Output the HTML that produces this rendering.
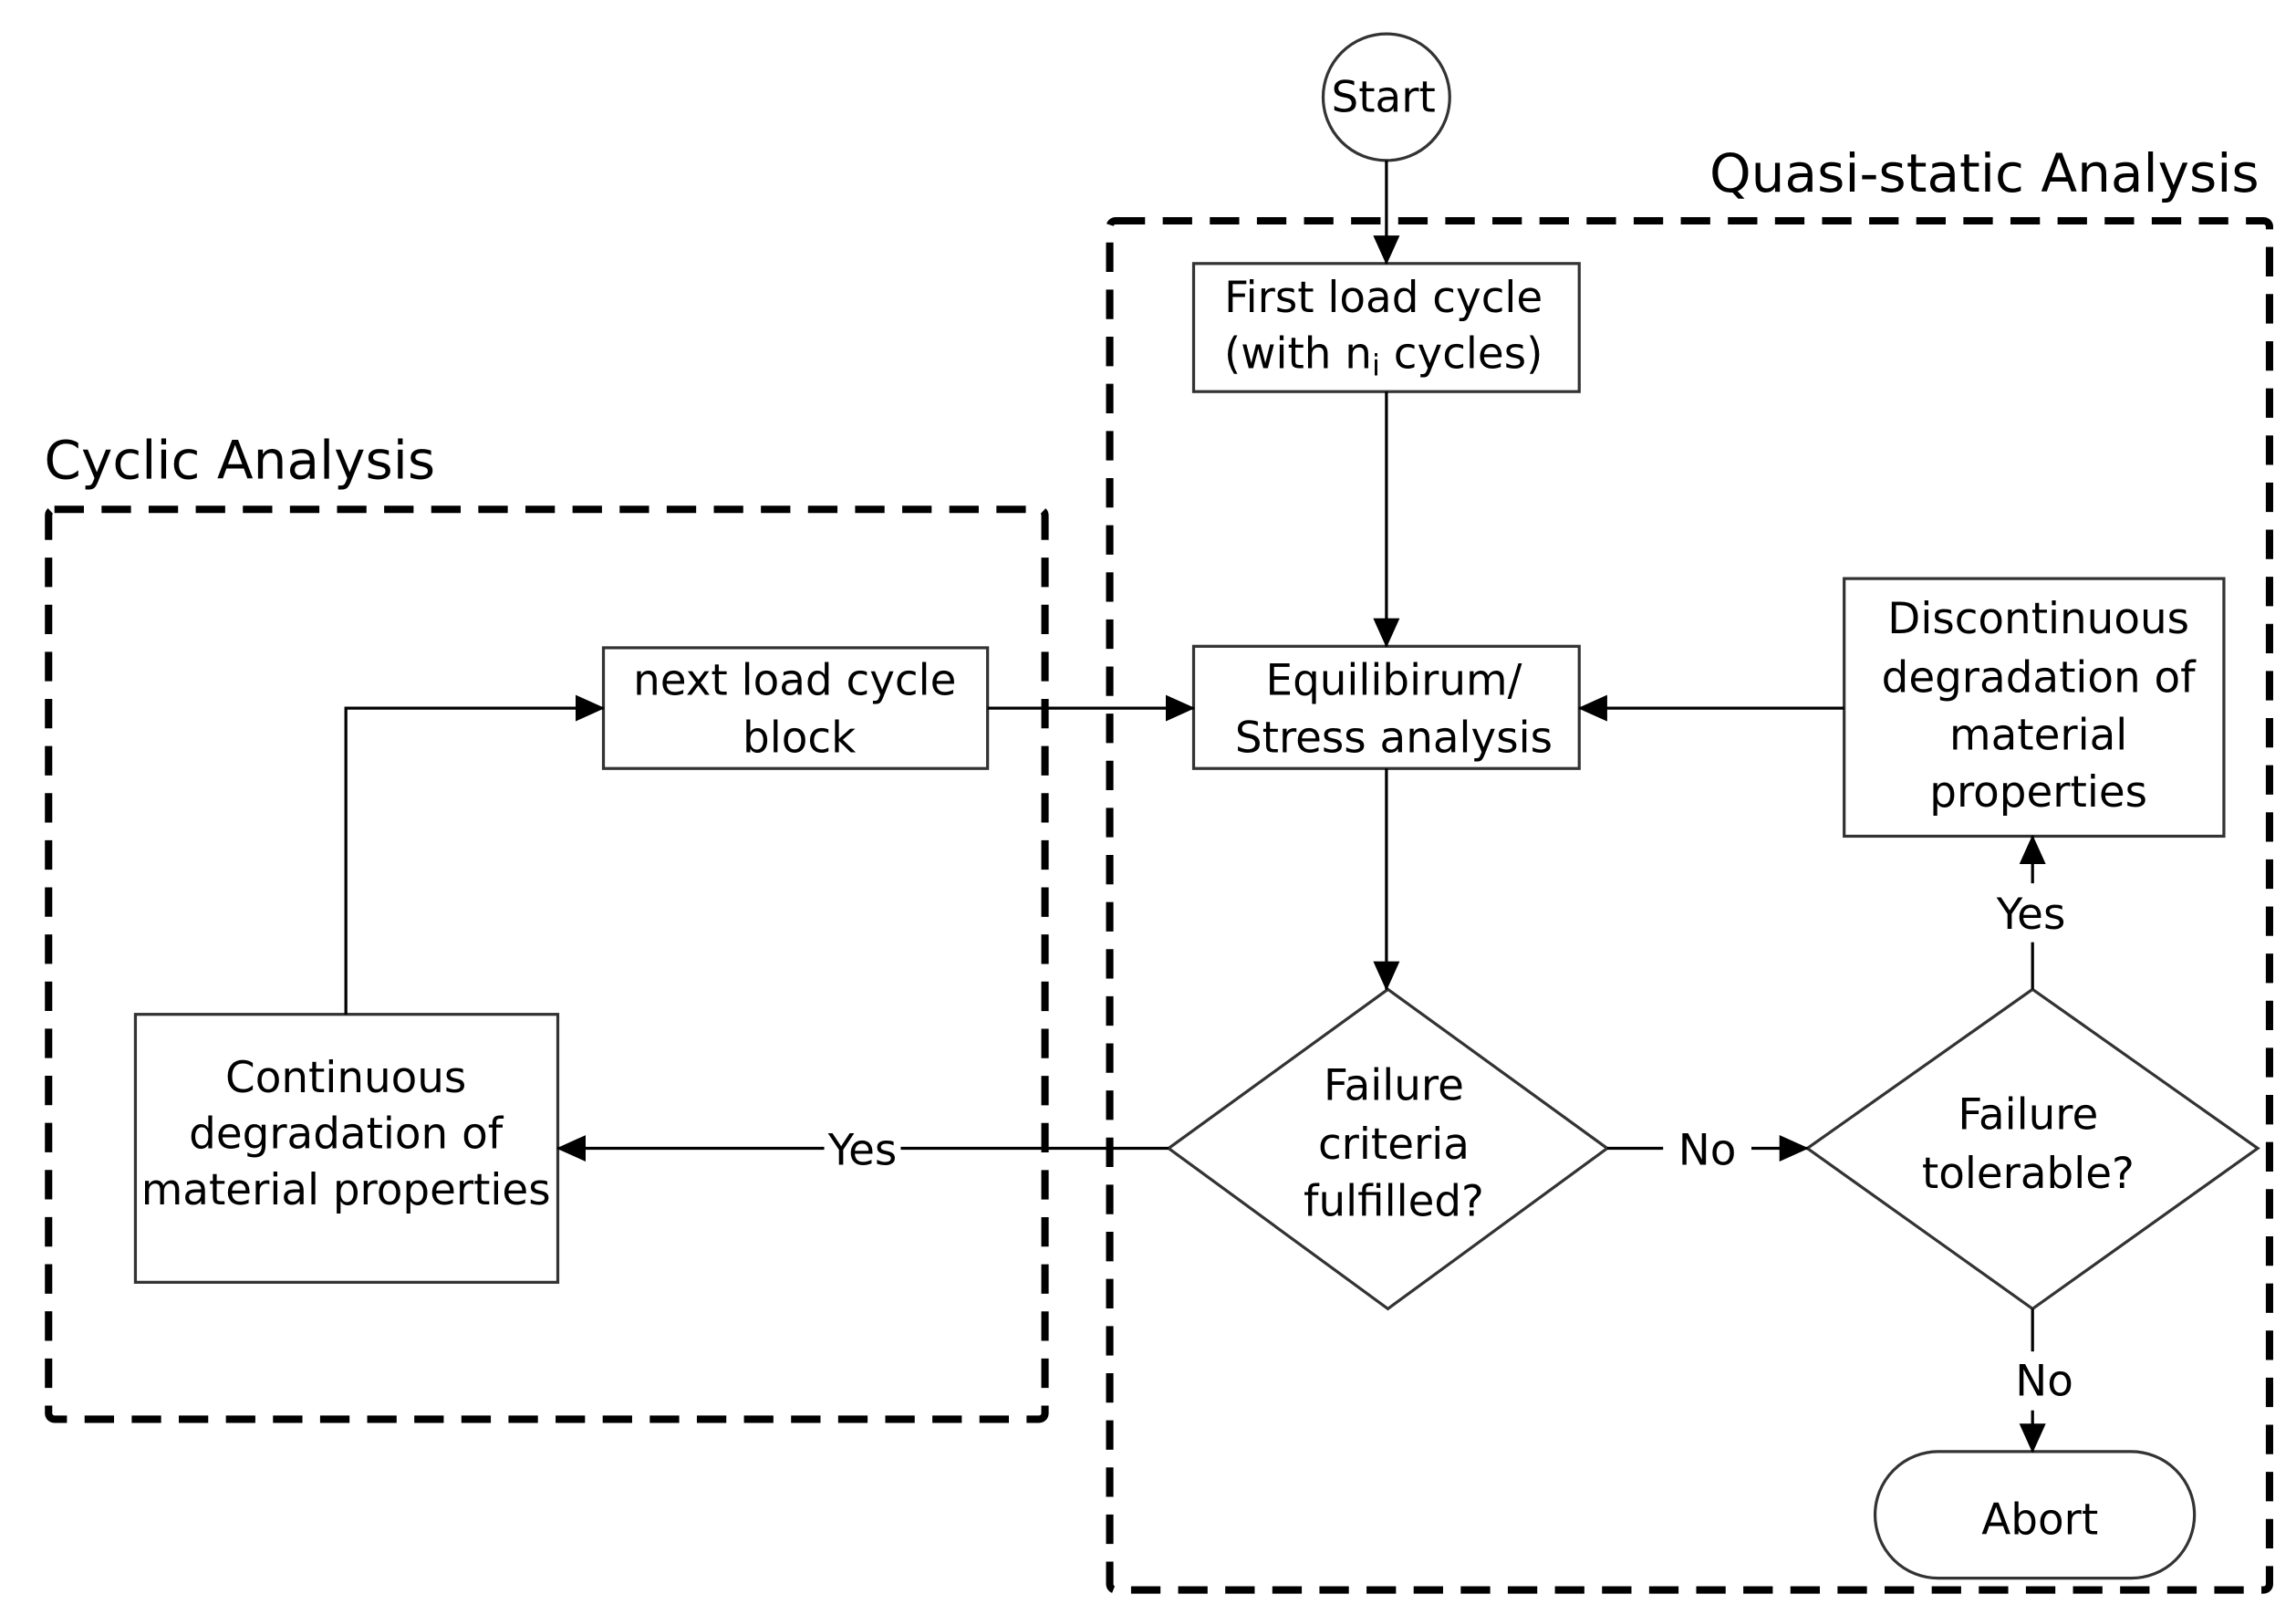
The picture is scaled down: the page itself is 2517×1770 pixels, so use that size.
<!DOCTYPE html>
<html><head><style>html,body{margin:0;padding:0;background:#fff}svg{display:block}</style></head>
<body>
<svg width="2517" height="1770" viewBox="0 0 1560 1097" preserveAspectRatio="none" xmlns="http://www.w3.org/2000/svg" font-family="DejaVu Sans, Liberation Sans, sans-serif" font-size="29">
<defs><marker id="a" markerWidth="10" markerHeight="10" refX="9" refY="5" orient="auto" markerUnits="userSpaceOnUse"><path d="M0,0 L10,5 L0,10 z" fill="#000"/></marker>
<marker id="b" markerWidth="20" markerHeight="18" refX="19" refY="9" orient="auto" markerUnits="userSpaceOnUse"><path d="M0,0 L20,9 L0,18 z" fill="#000"/></marker></defs>
<g fill="none" stroke="#000" stroke-width="5" stroke-dasharray="20,12">
<rect x="754" y="150" width="788" height="930" rx="4"/>
<rect x="33" y="346" width="677" height="618" rx="4"/>
</g>
<text x="1535" y="130" text-anchor="end" font-size="36">Quasi-static Analysis</text>
<text x="30" y="325" font-size="36">Cyclic Analysis</text>
<g fill="#fff" stroke="#333" stroke-width="2">
<circle cx="942" cy="66" r="43"/>
<rect x="811" y="179" width="262" height="87"/>
<rect x="811" y="439" width="262" height="83"/>
<rect x="410" y="440" width="261" height="82"/>
<rect x="1253" y="393" width="258" height="175"/>
<rect x="92" y="689" width="287" height="182"/>
<polygon points="943,672 1092,780 943,889 794,780"/>
<polygon points="1381,672 1534,780 1381,889 1228,780"/>
<rect x="1274" y="986" width="217" height="86" rx="43"/>
</g>
<g stroke="#000" stroke-width="2" fill="none">
<line x1="942" y1="109" x2="942" y2="179" marker-end="url(#b)"/>
<line x1="942" y1="266" x2="942" y2="439" marker-end="url(#b)"/>
<line x1="942" y1="522" x2="942" y2="672" marker-end="url(#b)"/>
<line x1="794" y1="780" x2="612" y2="780"/>
<line x1="560" y1="780" x2="379" y2="780" marker-end="url(#b)"/>
<polyline points="235,689 235,481 410,481" marker-end="url(#b)"/>
<line x1="671" y1="481" x2="811" y2="481" marker-end="url(#b)"/>
<line x1="1253" y1="481" x2="1073" y2="481" marker-end="url(#b)"/>
<line x1="1092" y1="780" x2="1130" y2="780"/>
<line x1="1190" y1="780" x2="1228" y2="780" marker-end="url(#b)"/>
<line x1="1381" y1="672" x2="1381" y2="640"/>
<line x1="1381" y1="600" x2="1381" y2="568" marker-end="url(#b)"/>
<line x1="1381" y1="889" x2="1381" y2="918"/>
<line x1="1381" y1="958" x2="1381" y2="986" marker-end="url(#b)"/>
</g>
<g text-anchor="middle">
<text x="940" y="76">Start</text>
<text x="940" y="212">First load cycle</text>
<text x="940" y="250">(with n<tspan font-size="20" dy="5">i</tspan><tspan dy="-5"> cycles)</tspan></text>
<text x="947" y="472">Equilibirum/</text>
<text x="947" y="511">Stress analysis</text>
<text x="540" y="472">next load cycle</text>
<text x="543" y="511">block</text>
<text x="1385" y="430">Discontinuous</text>
<text x="1385" y="470">degradation of</text>
<text x="1385" y="509">material</text>
<text x="1385" y="548">properties</text>
<text x="235" y="742">Continuous</text>
<text x="235" y="780">degradation of</text>
<text x="235" y="818">material properties</text>
<text x="947" y="747">Failure</text>
<text x="947" y="787">criteria</text>
<text x="947" y="826">fulfilled?</text>
<text x="1378" y="767">Failure</text>
<text x="1378" y="807">tolerable?</text>
<text x="1386" y="1042">Abort</text>
<text x="586" y="791">Yes</text>
<text x="1160" y="791">No</text>
<text x="1380" y="631">Yes</text>
<text x="1389" y="948">No</text>
</g>
</svg>
</body></html>
